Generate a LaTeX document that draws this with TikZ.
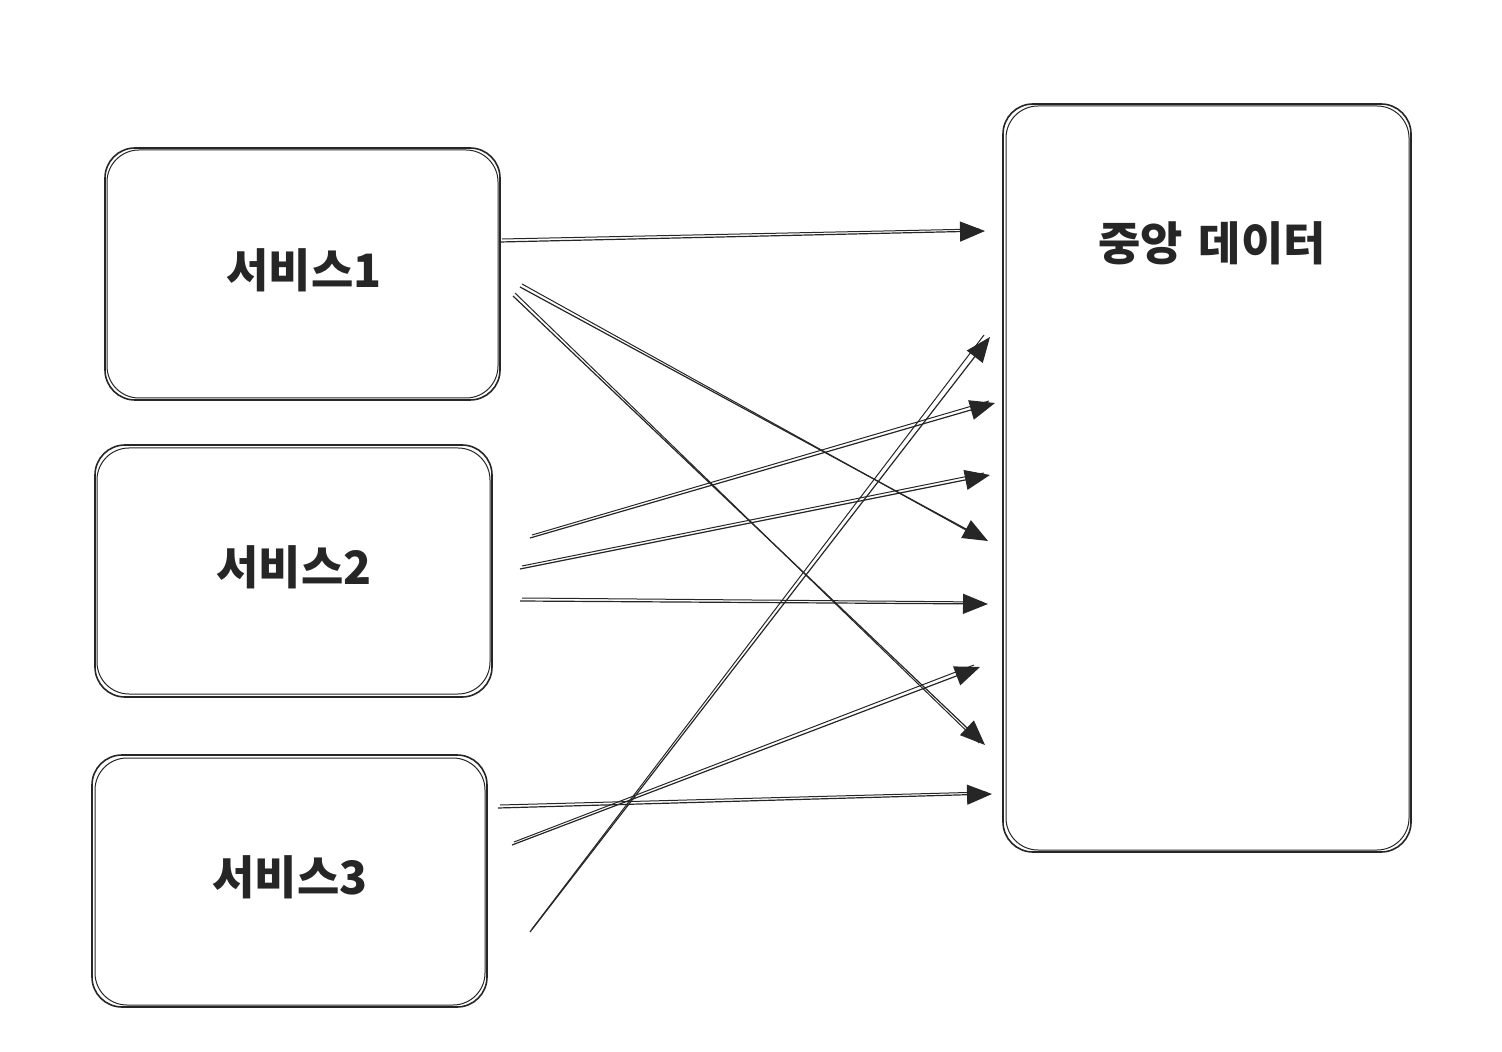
\documentclass[tikz,border=0pt]{standalone}
\usepackage{fontspec}
\newfontfamily\kr{Noto Sans CJK KR}
\usetikzlibrary{arrows.meta}
\tikzset{
  boxline/.style={line width=0.8pt, draw=black!85, rounded corners=15pt},
  boxline2/.style={line width=0.5pt, draw=black!85, rounded corners=16pt},
  lbl/.style={font=\kr\bfseries\fontsize{23}{27}\selectfont, text=black!85},
  conn/.style={line width=0.6pt, draw=black!85, -{Triangle[length=12.5pt,width=10pt]}},
  conn2/.style={line width=0.5pt, draw=black!85},
}
\begin{document}
\begin{tikzpicture}[x=0.5pt,y=-0.5pt]
\useasboundingbox (0,0) rectangle (1502,1052);
% boxes
\draw[boxline] (105,148) rectangle (500,400);
\draw[boxline2] (107,150) rectangle (498,398);
\draw[boxline] (95,445) rectangle (492,697);
\draw[boxline2] (97,448) rectangle (490,694);
\draw[boxline] (92,755) rectangle (487,1007);
\draw[boxline2] (95,758) rectangle (485,1005);
\draw[boxline] (1003,104) rectangle (1411,852);
\draw[boxline2] (1006,106) rectangle (1409,850);
% labels
\node[lbl] (t1) at (304,270) {서비스1};
\node[lbl] (t2) at (294,567) {서비스2};
\node[lbl] (t3) at (290,877) {서비스3};
\node[lbl] (tc) at (1212,243) {중앙\hspace{0.35em}데이터};
% endpoints
\coordinate (a1) at (500,242); \coordinate (b1) at (985,231);
\coordinate (a2) at (520,287); \coordinate (b2) at (988,541);
\coordinate (a3) at (513,296); \coordinate (b3) at (985,745);
\coordinate (a4) at (530,538); \coordinate (b4) at (995,403);
\coordinate (a5) at (520,569); \coordinate (b5) at (990,475);
\coordinate (a6) at (520,601); \coordinate (b6) at (988,604);
\coordinate (a7) at (530,932); \coordinate (b7) at (990,337);
\coordinate (a8) at (512,845); \coordinate (b8) at (980,667);
\coordinate (a9) at (498,808); \coordinate (b9) at (992,794);
% connectors
\foreach \i in {1,...,9}{
  \draw[conn] (a\i) -- (b\i);
  \draw[conn2] ([shift={(1pt,1.5pt)}]a\i) -- ([shift={(-3pt,1pt)}]b\i);
}
\end{tikzpicture}
\end{document}
